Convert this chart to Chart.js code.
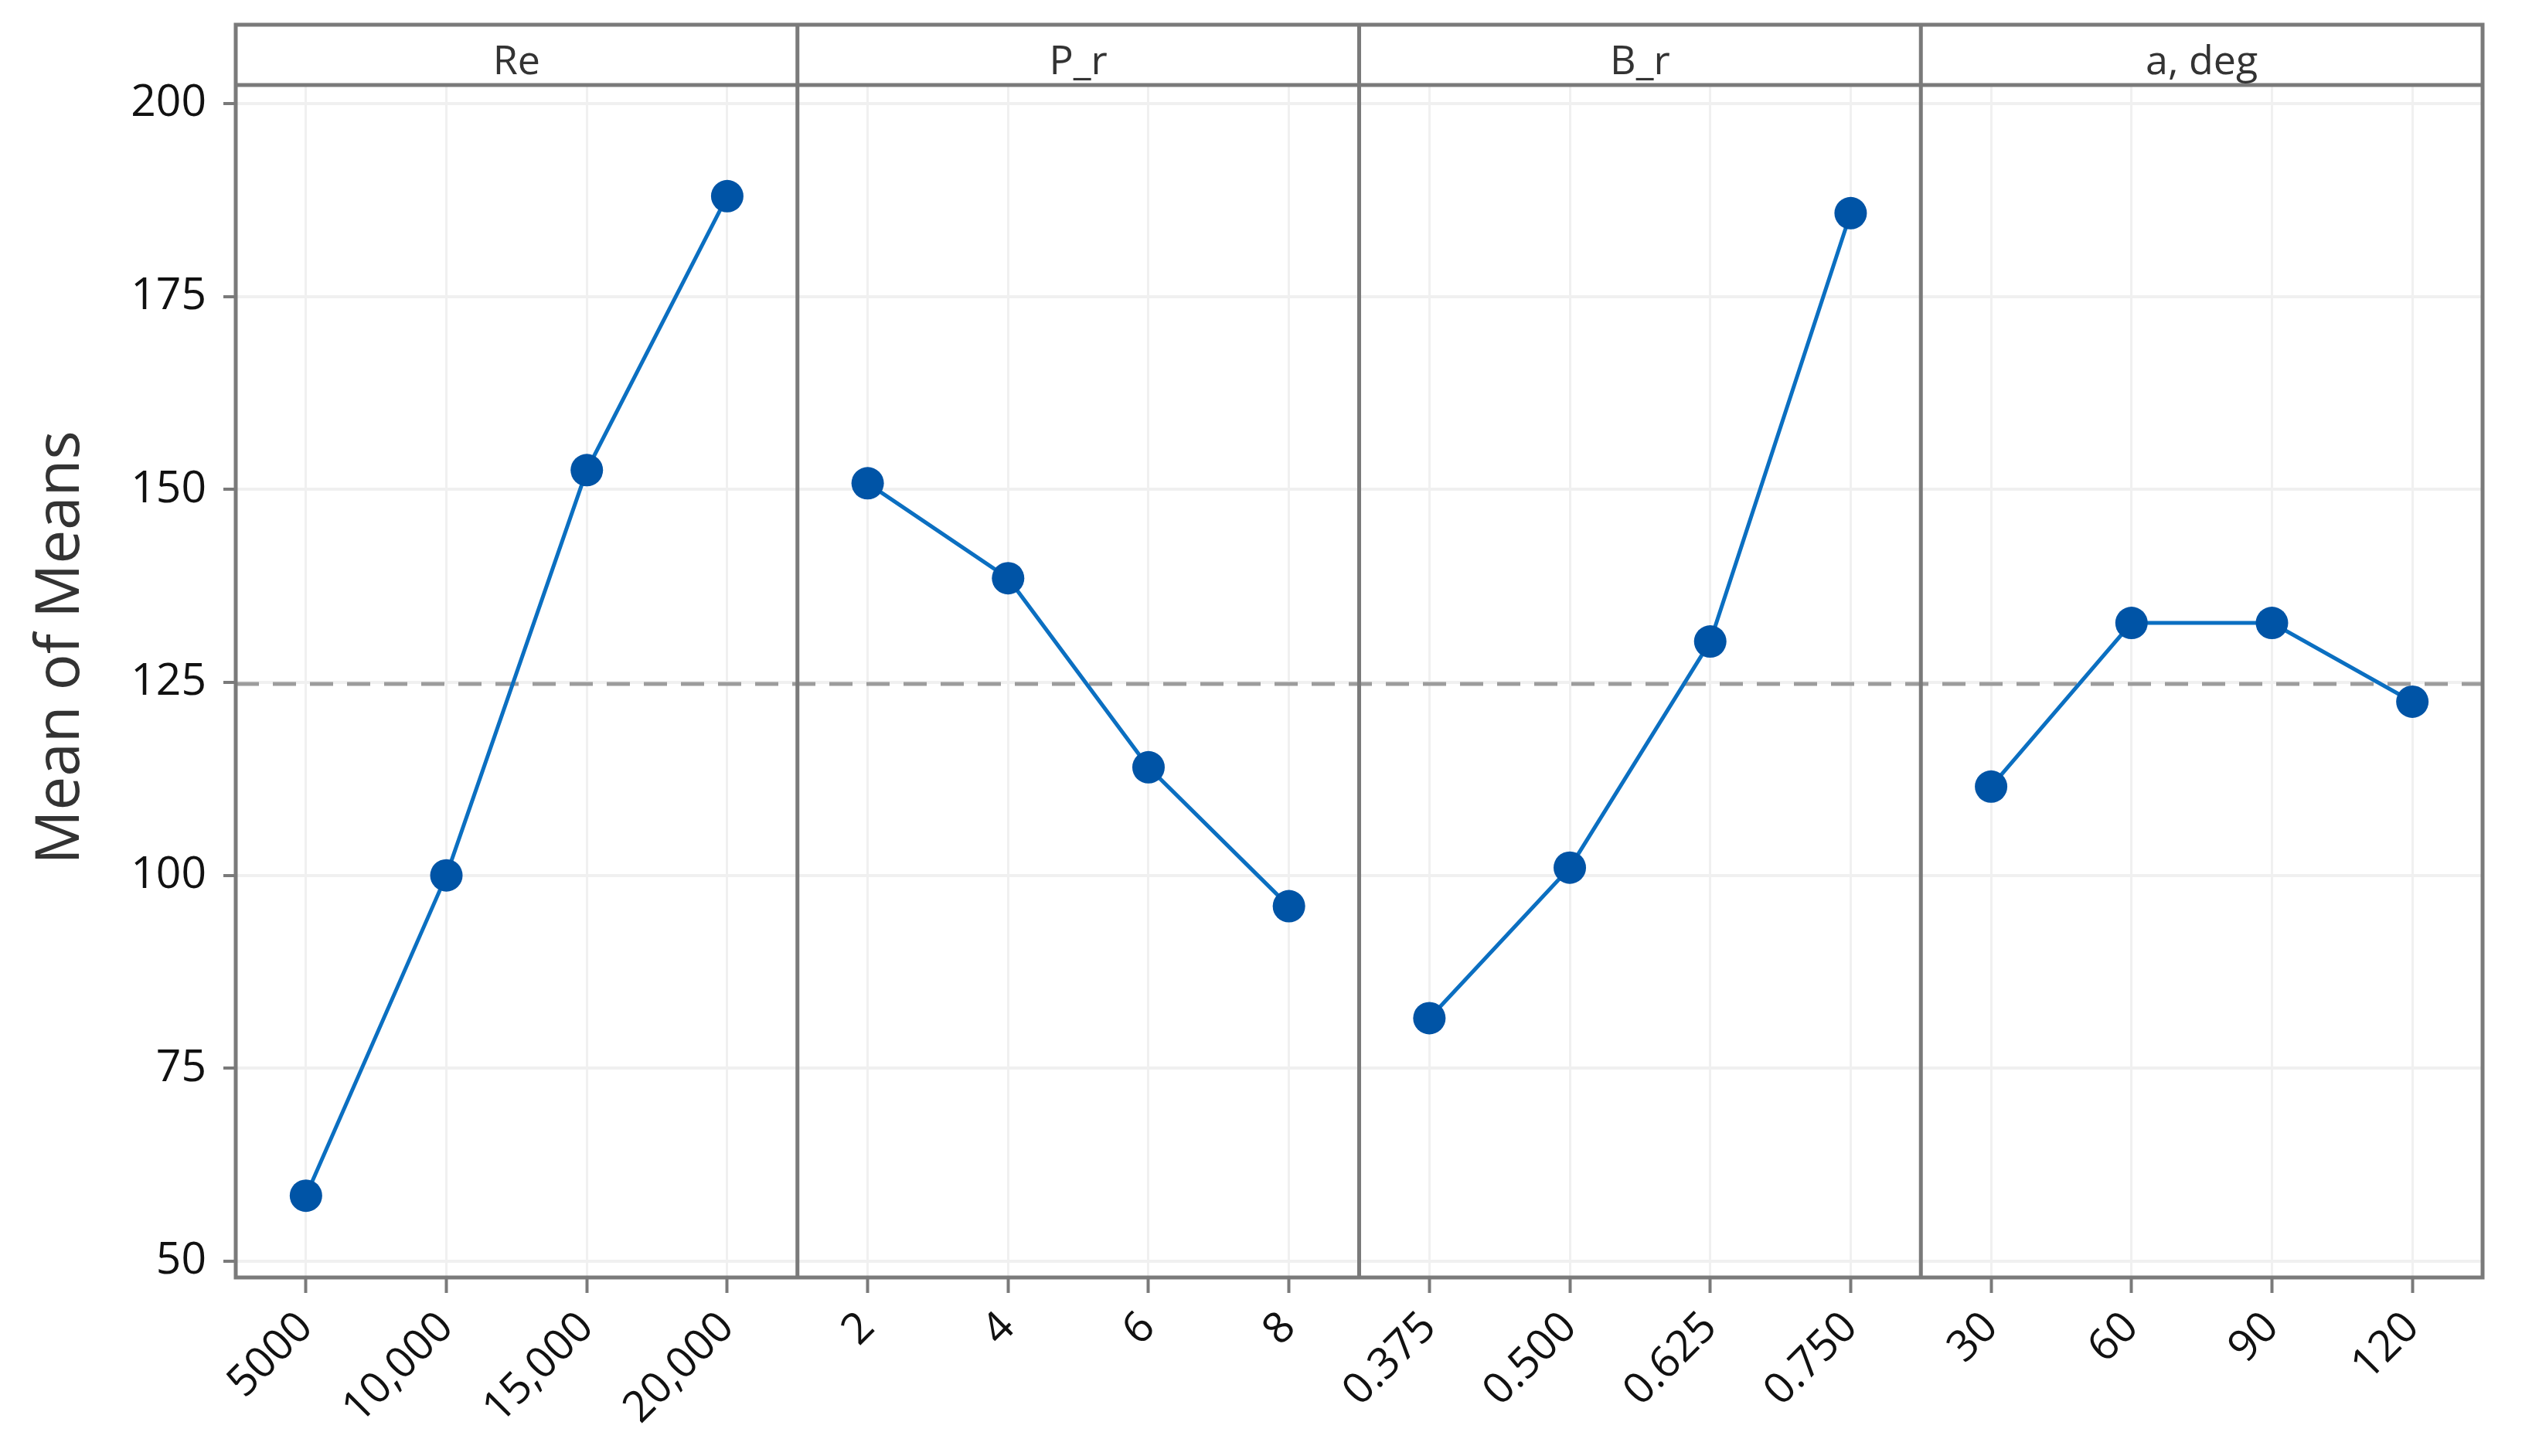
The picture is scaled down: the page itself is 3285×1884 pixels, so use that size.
<!DOCTYPE html>
<html>
<head>
<meta charset="utf-8">
<script src="https://cdn.jsdelivr.net/npm/chart.js@4.4.1/dist/chart.umd.min.js"></script>
<style>
  html, body { margin: 0; padding: 0; background: #fff; }
  #wrap { width: 3285px; height: 1884px; }
</style>
</head>
<body>
<div id="wrap"><canvas id="mainEffects" width="3285" height="1884"></canvas></div>
<script>
// factor names (strip titles) and their levels
const factorNames = ['Re', 'P_r', 'B_r', 'a, deg'];
const reLevels = ['5000', '10,000', '15,000', '20,000'];
const prLevels = ['2', '4', '6', '8'];
const brLevels = ['0.375', '0.500', '0.625', '0.750'];
const angleLevels = ['30', '60', '90', '120'];

// mean of means
const reMeans = [58.5, 100, 152.5, 188];
const prMeans = [150.8, 138.5, 114, 96];
const brMeans = [81.5, 101, 130.3, 185.8];
const angleMeans = [111.5, 132.7, 132.7, 122.5];

const grandMean = 124.8;
const yTicks = [50, 75, 100, 125, 150, 175, 200];
const yTitle = 'Mean of Means';

const allLevels = [...reLevels, ...prLevels, ...brLevels, ...angleLevels];
const groups = [
  [reLevels, reMeans],
  [prLevels, prMeans],
  [brLevels, brMeans],
  [angleLevels, angleMeans]
];

const LINE = '#0b6fc1';
const DOT = '#0054a6';
const FRAME = '#7a7a7a';

const facetFrame = {
  id: 'facetFrame',
  beforeDatasetsDraw(chart) {
    const { ctx, chartArea: a, scales: { y } } = chart;
    const yy = y.getPixelForValue(grandMean);
    ctx.save();
    ctx.strokeStyle = '#9c9c9c';
    ctx.lineWidth = 5;
    ctx.setLineDash([30, 18]);
    ctx.beginPath();
    ctx.moveTo(a.left, yy);
    ctx.lineTo(a.right, yy);
    ctx.stroke();
    ctx.restore();
  },
  afterDraw(chart) {
    const { ctx, chartArea: a, scales: { x } } = chart;
    const stripTop = 32;
    ctx.save();
    ctx.strokeStyle = FRAME;
    ctx.lineWidth = 5;
    ctx.strokeRect(a.left, stripTop, a.right - a.left, a.bottom - stripTop);
    ctx.beginPath();
    ctx.moveTo(a.left, a.top);
    ctx.lineTo(a.right, a.top);
    const edges = [a.left];
    for (let g = 1; g < groups.length; g++) {
      const i = g * 4;
      const xx = (x.getPixelForTick(i - 1) + x.getPixelForTick(i)) / 2;
      edges.push(xx);
      ctx.moveTo(xx, stripTop);
      ctx.lineTo(xx, a.bottom);
    }
    edges.push(a.right);
    ctx.stroke();
    ctx.fillStyle = '#333';
    ctx.font = '52px "Open Sans"';
    ctx.textAlign = 'center';
    ctx.textBaseline = 'middle';
    factorNames.forEach((name, g) => {
      ctx.fillText(name, (edges[g] + edges[g + 1]) / 2, (stripTop + a.top) / 2 + 10);
    });

    // y axis title, sitting a little above the middle like the original
    ctx.font = '78px "Open Sans"';
    ctx.fillStyle = '#333';
    ctx.translate(80, 838);
    ctx.rotate(-Math.PI / 2);
    ctx.fillText(yTitle, 0, 0);
    ctx.restore();
  }
};

new Chart(document.getElementById('mainEffects'), {
  type: 'line',
  data: {
    labels: allLevels,
    datasets: groups.map(([levels, means], g) => ({
      label: factorNames[g],
      data: levels.map((lv, i) => ({ x: lv, y: means[i] })),
      borderColor: LINE,
      borderWidth: 5,
      backgroundColor: DOT,
      pointBackgroundColor: DOT,
      pointBorderColor: DOT,
      pointBorderWidth: 0,
      pointRadius: 21,
      pointHoverRadius: 21,
      tension: 0
    }))
  },
  options: {
    responsive: false,
    animation: false,
    devicePixelRatio: 1,
    layout: { padding: { left: 0, top: 110, right: 73, bottom: 0 } },
    plugins: { legend: { display: false }, tooltip: { enabled: false } },
    scales: {
      x: {
        type: 'category',
        offset: true,
        grid: { offset: false, color: '#f0f0f0', lineWidth: 3, tickColor: FRAME, tickWidth: 4, tickLength: 20 },
        border: { display: false },
        ticks: {
          minRotation: 45, maxRotation: 45, autoSkip: false, padding: 12,
          color: '#111', font: { family: 'Open Sans', size: 56 }
        },
        afterFit: s => { s.height = 231; }
      },
      y: {
        min: 47.9,
        max: 202.4,
        grid: { color: '#f0f0f0', lineWidth: 4, tickColor: FRAME, tickWidth: 4, tickLength: 16 },
        border: { display: false },
        afterBuildTicks: s => { s.ticks = yTicks.map(v => ({ value: v })); },
        ticks: { padding: 22, color: '#111', font: { family: 'Open Sans', size: 57 } },
        afterFit: s => { s.width = 305; }
      }
    }
  },
  plugins: [facetFrame]
});
</script>
</body>
</html>
